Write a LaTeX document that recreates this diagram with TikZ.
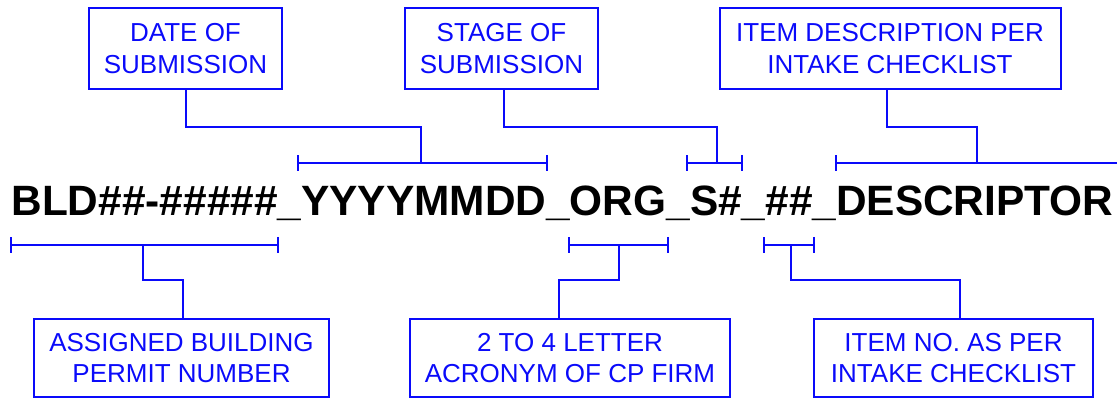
\documentclass[tikz,border=0pt]{standalone}
\usepackage{fontspec}
\setmainfont{Liberation Sans}
\usetikzlibrary{arrows.meta}
\definecolor{lblue}{RGB}{10,10,250}
\begin{document}
\begin{tikzpicture}[x=1pt,y=-1pt,
  lbl/.style={draw=lblue, line width=2pt, text=lblue, font=\fontsize{26}{31.5}\selectfont, align=center, inner sep=0pt, minimum height=81pt},
  conn/.style={draw=lblue, line width=2pt},
  brk/.style={draw=lblue, line width=2pt, {Bar[width=16pt]}-{Bar[width=16pt]}},
  brkl/.style={draw=lblue, line width=2pt, {Bar[width=16pt]}-}]
\useasboundingbox (0,0) rectangle (1117,398);
% label boxes
\node[lbl, minimum width=193pt] (b1) at (185.5,48.5) {DATE OF\\SUBMISSION};
\node[lbl, minimum width=193pt] (b2) at (501.5,48.5) {STAGE OF\\SUBMISSION};
\node[lbl, minimum width=341pt] (b3) at (890,48.5) {ITEM DESCRIPTION PER\\INTAKE CHECKLIST};
\node[lbl, minimum width=295pt, minimum height=78pt] (b4) at (181.5,358) {ASSIGNED BUILDING\\PERMIT NUMBER};
\node[lbl, minimum width=320pt, minimum height=78pt] (b5) at (570,358) {2 TO 4 LETTER\\ACRONYM OF CP FIRM};
\node[lbl, minimum width=279pt, minimum height=78pt] (b6) at (953.5,358) {ITEM NO. AS PER\\INTAKE CHECKLIST};
% main code
\node[anchor=base, inner sep=0pt, font=\fontsize{42.4}{50}\selectfont\bfseries] (code) at (562.5,216) {BLD\#\#-\#\#\#\#\#\_YYYYMMDD\_ORG\_S\#\_\#\#\_DESCRIPTOR};
% bracket coordinates
\coordinate (t1a) at (297,163); \coordinate (t1b) at (548,163); \coordinate (t1m) at (421,163);
\coordinate (t2a) at (686,163); \coordinate (t2b) at (743,163); \coordinate (t2m) at (717,163);
\coordinate (t3a) at (835,163); \coordinate (t3b) at (1130,163); \coordinate (t3m) at (977,163);
\coordinate (u1a) at (10,245); \coordinate (u1b) at (279,245); \coordinate (u1m) at (143,245);
\coordinate (u2a) at (568,245); \coordinate (u2b) at (669,245); \coordinate (u2m) at (619,245);
\coordinate (u3a) at (763,245); \coordinate (u3b) at (815,245); \coordinate (u3m) at (791,245);
% brackets
\draw[brk] (t1a) -- (t1b);
\draw[brk] (t2a) -- (t2b);
\draw[brkl] (t3a) -- (t3b);
\draw[brk] (u1a) -- (u1b);
\draw[brk] (u2a) -- (u2b);
\draw[brk] (u3a) -- (u3b);
% connectors
\draw[conn] (b1.south) -- ++(0,37) -| (t1m);
\draw[conn] ([xshift=2.5pt]b2.south) -- ++(0,37) -| (t2m);
\draw[conn] ([xshift=-3pt]b3.south) -- ++(0,37) -| (t3m);
\draw[conn] ([xshift=1.5pt]b4.north) -- ++(0,-38) -| (u1m);
\draw[conn] ([xshift=-11pt]b5.north) -- ++(0,-38) -| (u2m);
\draw[conn] ([xshift=6.5pt]b6.north) -- ++(0,-38) -| (u3m);
\end{tikzpicture}
\end{document}
